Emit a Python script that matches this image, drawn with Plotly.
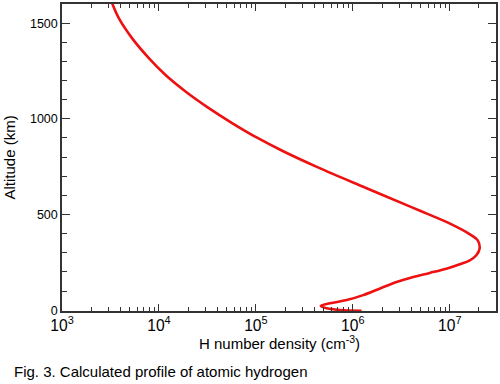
import plotly.graph_objects as go

# Altitude (km) and atomic hydrogen number density (cm^-3)
altitude_km = [1625, 1523, 1419, 1316, 1229, 1143, 1056, 978, 900, 832, 745, 640, 540,
               502, 450, 398, 364, 321, 286, 261, 240, 217, 195, 174, 148, 114, 79,
               53, 36, 23, 10, 1, -3]
density_cm3 = [3.17e3, 3.88e3, 5.32e3, 7.91e3, 1.17e4, 1.88e4, 3.27e4, 5.68e4, 1.04e5,
               1.89e5, 4.43e5, 1.35e6, 3.97e6, 5.98e6, 1.03e7, 1.60e7, 1.95e7, 2.03e7,
               1.87e7, 1.61e7, 1.27e7, 9.23e6, 6.22e6, 4.20e6, 2.82e6, 1.91e6, 1.28e6,
               8.65e5, 5.83e5, 4.67e5, 5.38e5, 7.40e5, 1.23e6]

x_title = "H number density (cm<sup>-3</sup>)"
y_title = "Altitude (km)"
caption = "Fig. 3. Calculated profile of atomic hydrogen"

FONT = "Liberation Sans, Arial, sans-serif"
AX = "#333333"

fig = go.Figure()
fig.add_trace(go.Scatter(
    x=density_cm3, y=altitude_km, mode="lines",
    line=dict(color="#ee1111", width=2.6, shape="spline", smoothing=1.0),
    showlegend=False, hoverinfo="skip"))

fig.update_layout(
    width=500, height=384,
    margin=dict(l=62, r=2, t=2, b=73),
    paper_bgcolor="white", plot_bgcolor="white",
    font=dict(family=FONT, size=13, color="black"),
    xaxis=dict(
        type="log", range=[3, 7.477], dtick=1, exponentformat="power",
        showgrid=False, zeroline=False,
        showline=True, linecolor=AX, linewidth=1.5, mirror="ticks",
        ticks="inside", ticklen=7, tickwidth=1.2, tickcolor=AX,
        tickfont=dict(family=FONT, size=12.5, color="black"),
        minor=dict(ticks="inside", ticklen=4, tickwidth=1, tickcolor=AX, dtick="D1",
                   showgrid=False),
    ),
    yaxis=dict(
        range=[-4, 1600], dtick=500, tick0=0,
        showgrid=False, zeroline=False,
        showline=True, linecolor=AX, linewidth=1.5, mirror="ticks",
        ticks="inside", ticklen=8, tickwidth=1.2, tickcolor=AX,
        tickfont=dict(family=FONT, size=12.5, color="black"),
        minor=dict(ticks="inside", ticklen=5, tickwidth=1, tickcolor=AX, dtick=100,
                   showgrid=False),
    ),
    annotations=[
        dict(text=x_title, xref="paper", yref="paper", x=0.5, y=-0.104,
             xanchor="center", yanchor="middle", showarrow=False,
             font=dict(family=FONT, size=15, color="black")),
        dict(text=y_title, xref="paper", yref="paper", x=-0.122, y=0.5,
             xanchor="center", yanchor="middle", showarrow=False, textangle=-90,
             font=dict(family=FONT, size=15, color="black")),
        dict(text=caption, xref="paper", yref="paper", x=-0.1147, y=-0.197,
             xanchor="left", yanchor="middle", showarrow=False,
             font=dict(family=FONT, size=15, color="black")),
    ],
)

fig.write_html("out.html", config={"displayModeBar": False},
               post_script="document.body.style.margin='0px';")
